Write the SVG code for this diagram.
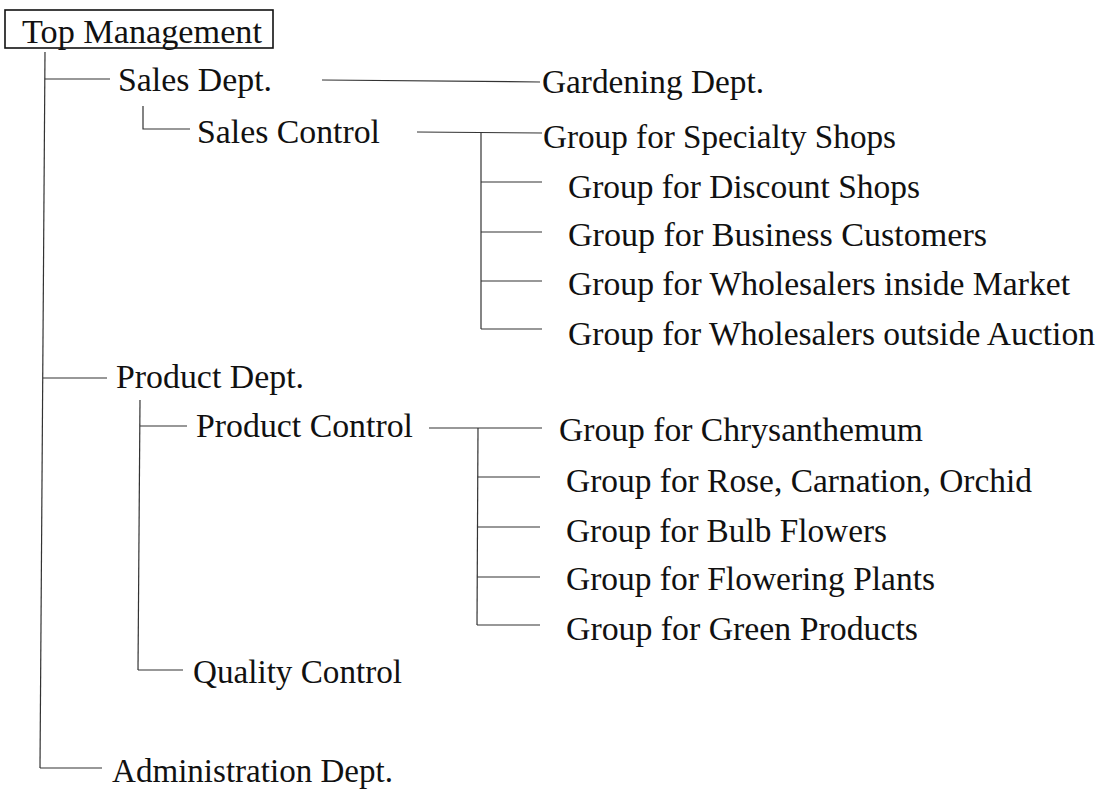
<svg xmlns="http://www.w3.org/2000/svg" width="1100" height="789" viewBox="0 0 1100 789">
<style>
text { font-family: "Liberation Serif", "Times New Roman", serif; font-size: 33px; fill: #111; }
.c line, .c polyline { stroke: #333; stroke-width: 1.2; fill: none; }
.box { fill: #fff; stroke: #111; stroke-width: 1.6; }
</style>
<rect width="1100" height="789" fill="#fff"/>
<g class="c" id="connectors">
  <line x1="45" y1="52" x2="40" y2="768"/>
  <line x1="45" y1="79" x2="110" y2="79"/>
  <line x1="43" y1="378" x2="107" y2="378"/>
  <line x1="40" y1="768" x2="102" y2="768"/>
  <line x1="322" y1="80" x2="540" y2="82"/>
  <polyline points="143,106 143,129 190,129"/>
  <line x1="417" y1="132" x2="542" y2="133"/>
  <line x1="481" y1="133" x2="481" y2="329"/>
  <line x1="481" y1="182" x2="542" y2="182"/>
  <line x1="481" y1="232" x2="542" y2="232"/>
  <line x1="481" y1="281" x2="542" y2="281"/>
  <line x1="481" y1="329" x2="542" y2="329"/>
  <line x1="140" y1="400" x2="138" y2="670"/>
  <line x1="140" y1="426" x2="187" y2="426"/>
  <line x1="138" y1="670" x2="183" y2="670"/>
  <line x1="429" y1="428" x2="542" y2="428"/>
  <line x1="478" y1="428" x2="477" y2="625"/>
  <line x1="478" y1="477" x2="540" y2="477"/>
  <line x1="478" y1="527" x2="540" y2="527"/>
  <line x1="477" y1="577" x2="540" y2="577"/>
  <line x1="477" y1="625" x2="540" y2="625"/>
</g>
<g id="top-management">
  <rect class="box" x="5" y="10" width="268" height="38"/>
  <text x="22" y="43" textLength="240" lengthAdjust="spacingAndGlyphs">Top Management</text>
</g>
<g id="sales-dept"><text x="118" y="91" textLength="154" lengthAdjust="spacingAndGlyphs">Sales Dept.</text></g>
<g id="gardening-dept"><text x="542" y="93" textLength="222" lengthAdjust="spacingAndGlyphs">Gardening Dept.</text></g>
<g id="sales-control"><text x="197" y="143" textLength="183" lengthAdjust="spacingAndGlyphs">Sales Control</text></g>
<g id="grp-specialty"><text x="543" y="148" textLength="353" lengthAdjust="spacingAndGlyphs">Group for Specialty Shops</text></g>
<g id="grp-discount"><text x="568" y="198" textLength="352" lengthAdjust="spacingAndGlyphs">Group for Discount Shops</text></g>
<g id="grp-business"><text x="568" y="246" textLength="419" lengthAdjust="spacingAndGlyphs">Group for Business Customers</text></g>
<g id="grp-inside"><text x="568" y="295" textLength="502" lengthAdjust="spacingAndGlyphs">Group for Wholesalers inside Market</text></g>
<g id="grp-outside"><text x="568" y="345" textLength="527" lengthAdjust="spacingAndGlyphs">Group for Wholesalers outside Auction</text></g>
<g id="product-dept"><text x="116" y="388" textLength="188" lengthAdjust="spacingAndGlyphs">Product Dept.</text></g>
<g id="product-control"><text x="196" y="437" textLength="217" lengthAdjust="spacingAndGlyphs">Product Control</text></g>
<g id="grp-chrys"><text x="559" y="441" textLength="364" lengthAdjust="spacingAndGlyphs">Group for Chrysanthemum</text></g>
<g id="grp-rose"><text x="566" y="492" textLength="466" lengthAdjust="spacingAndGlyphs">Group for Rose, Carnation, Orchid</text></g>
<g id="grp-bulb"><text x="566" y="542" textLength="321" lengthAdjust="spacingAndGlyphs">Group for Bulb Flowers</text></g>
<g id="grp-flowering"><text x="566" y="590" textLength="369" lengthAdjust="spacingAndGlyphs">Group for Flowering Plants</text></g>
<g id="grp-green"><text x="566" y="640" textLength="352" lengthAdjust="spacingAndGlyphs">Group for Green Products</text></g>
<g id="quality-control"><text x="193" y="683" textLength="209" lengthAdjust="spacingAndGlyphs">Quality Control</text></g>
<g id="admin-dept"><text x="112" y="782" textLength="281" lengthAdjust="spacingAndGlyphs">Administration Dept.</text></g>
</svg>
